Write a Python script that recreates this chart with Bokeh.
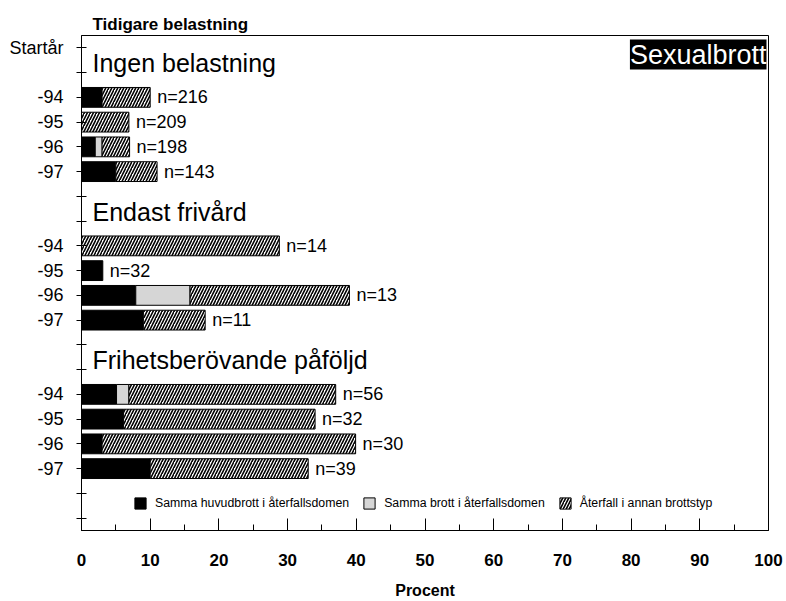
from bokeh.plotting import figure
from bokeh.models import Range1d, FixedTicker, Label, Legend, LegendItem, ColumnDataSource
from bokeh.core.properties import value
from bokeh.embed import file_html
from bokeh.resources import INLINE

FONT = "Liberation Sans"

# ---- data (percent) ----
years = ["-94", "-95", "-96", "-97"]
groups = ["Ingen belastning", "Endast frivård", "Frihetsberövande påföljd"]
series_names = ["Samma huvudbrott i återfallsdomen", "Samma brott i återfallsdomen", "Återfall i annan brottstyp"]
same_main = [3.0, 0.0, 2.0, 5.0,   0.0, 3.1, 7.9, 9.0,   5.1, 6.1, 3.0, 10.0]
same_crime = [0.0, 0.0, 1.0, 0.0,  0.0, 0.0, 7.9, 0.0,   1.8, 0.0, 0.0, 0.0]
other_type = [7.0, 6.9, 4.0, 6.0,  28.8, 0.0, 23.2, 9.0, 30.1, 27.9, 36.9, 23.0]
n_counts = [216, 209, 198, 143, 14, 32, 13, 11, 56, 32, 30, 39]
x_ticks = list(range(0, 101, 10))

# ---- layout of rows ----
rows = []
header_rows = []
for g in range(len(groups)):
    header_rows.append(1 + 6 * g)
    for i in range(len(years)):
        rows.append(2 + 6 * g + i)
n_rows = 20

p = figure(width=786, height=601, output_backend="svg", toolbar_location=None,
           x_range=Range1d(0, 100), y_range=Range1d(n_rows - 0.5, -0.5),
           min_border_left=81, min_border_right=18, min_border_top=35, min_border_bottom=69)
p.background_fill_color = "white"
p.border_fill_color = "white"
p.outline_line_color = "black"
p.outline_line_width = 1
p.xgrid.visible = False
p.ygrid.visible = False

p.title.text = "Tidigare belastning"
p.title.align = "left"
p.title.offset = 11
p.title.standoff = 4
p.title.text_font = FONT
p.title.text_font_style = "bold"
p.title.text_font_size = "17px"
p.title.text_color = "black"

# stacked segments
def segs(starts, widths):
    l, r, y = [], [], []
    for s, w, row in zip(starts, widths, rows):
        if w > 0:
            l.append(s); r.append(s + w); y.append(row)
    return ColumnDataSource(dict(left=l, right=r, y=y))

zeros = [0.0] * len(same_main)
s1 = segs(zeros, same_main)
s2 = segs(same_main, same_crime)
start3 = [a + b for a, b in zip(same_main, same_crime)]
s3 = segs(start3, other_type)
totals = [a + b + c for a, b, c in zip(same_main, same_crime, other_type)]

H = 0.8
r1 = p.hbar(y="y", left="left", right="right", height=H, source=s1,
            fill_color="black", line_color="black", line_width=1)
r2 = p.hbar(y="y", left="left", right="right", height=H, source=s2,
            fill_color="#d6d6d6", line_color="black", line_width=1)
r3 = p.hbar(y="y", left="left", right="right", height=H, source=s3,
            fill_color="white", line_color="black", line_width=1,
            hatch_pattern="/", hatch_color="black", hatch_scale=6, hatch_weight=1.6)

# n labels
p.text(x=totals, y=rows, text=["n=%d" % n for n in n_counts], x_offset=7,
       text_baseline="middle", text_align="left", text_font=value(FONT),
       text_font_size="18px", text_color="black")

# group headers (sitting just above their header tick)
p.text(x=[0] * len(groups), y=[h - 0.38 for h in header_rows], text=groups, x_offset=11,
       text_baseline="alphabetic", text_align="left", text_font=value(FONT),
       text_font_size="25px", text_color="black")

# axes
xa = p.xaxis[0]
xa.ticker = FixedTicker(ticks=x_ticks, minor_ticks=[t + 5 for t in x_ticks[:-1]])
xa.major_tick_in = 12
xa.major_tick_out = 0
xa.minor_tick_in = 6
xa.minor_tick_out = 0
xa.axis_line_color = "black"
xa.major_tick_line_color = "black"
xa.minor_tick_line_color = "black"
xa.major_label_text_font = FONT
xa.major_label_text_font_style = "bold"
xa.major_label_text_font_size = "17px"
xa.major_label_text_color = "black"
xa.major_label_standoff = 23
xa.axis_label = "Procent"
xa.axis_label_text_font = FONT
xa.axis_label_text_font_style = "bold"
xa.axis_label_text_font_size = "16px"
xa.axis_label_text_color = "black"
xa.axis_label_standoff = 13

ya = p.yaxis[0]
ya.ticker = FixedTicker(ticks=list(range(n_rows)))
overrides = {i: "" for i in range(n_rows)}
overrides[0] = "Startår"
for k, row in enumerate(rows):
    overrides[row] = years[k % len(years)]
ya.major_label_overrides = overrides
ya.major_tick_in = 5
ya.major_tick_out = 5
ya.minor_tick_line_color = None
ya.axis_line_color = "black"
ya.major_tick_line_color = "black"
ya.major_label_text_font = FONT
ya.major_label_text_font_size = "18px"
ya.major_label_text_color = "black"
ya.major_label_standoff = 13

p.add_layout(Label(x=100, y=-0.5, x_offset=-2, y_offset=-19, text="Sexualbrott",
                   text_align="right", text_baseline="alphabetic", text_font=FONT,
                   text_font_size="27px", text_color="white",
                   background_fill_color="black"))

legend = Legend(items=[LegendItem(label=series_names[0], renderers=[r1]),
                       LegendItem(label=series_names[1], renderers=[r2]),
                       LegendItem(label=series_names[2], renderers=[r3])],
                orientation="horizontal", location=(52, 20),
                glyph_width=14, glyph_height=14, label_height=14, label_standoff=8,
                spacing=13, padding=0, margin=0, border_line_color=None,
                background_fill_alpha=0, label_text_font=FONT,
                label_text_font_size="12.3px", label_text_color="black")
p.add_layout(legend, "center")

open("out.html", "w").write(file_html(p, INLINE))
